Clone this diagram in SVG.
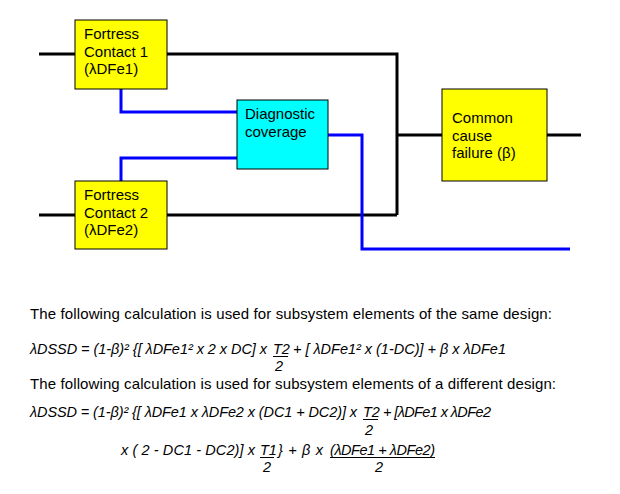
<svg xmlns="http://www.w3.org/2000/svg" width="620" height="494" viewBox="0 0 620 494">
<style>
.box{stroke:#000;stroke-width:1}
.yl{fill:#ffff00}
.cy{fill:#00ffff}
.blk{fill:none;stroke:#000;stroke-width:3}
.blu{fill:none;stroke:#0000ff;stroke-width:3}
.lbl{font-family:"Liberation Sans",Arial,sans-serif;font-size:15px;fill:#000}
.txt{font-family:"Liberation Sans",Arial,sans-serif;font-size:15px;fill:#000}
.f{font-family:"Liberation Sans",Arial,sans-serif;font-size:14.5px;font-style:italic;fill:#000}
.ul{stroke:#000;stroke-width:1}
</style>
<rect width="620" height="494" fill="#fff"/>
<g id="connectors">
<path class="blk" d="M39 54H397V215M39 215H397M397 135H442M547 135H581"/>
<path class="blu" d="M121 89V112H237M121 181V158H237M328 135H362V249H570"/>
</g>
<g id="fc1">
<rect class="box yl" x="75" y="20" width="92" height="69"/>
<text class="lbl"><tspan x="84" y="39">Fortress</tspan><tspan x="84" y="56.5">Contact 1</tspan><tspan x="84" y="74">(λDFe1)</tspan></text>
</g>
<g id="fc2">
<rect class="box yl" x="75" y="181" width="92" height="68"/>
<text class="lbl"><tspan x="84" y="200">Fortress</tspan><tspan x="84" y="217.5">Contact 2</tspan><tspan x="84" y="235">(λDFe2)</tspan></text>
</g>
<g id="dc">
<rect class="box cy" x="237" y="100" width="91" height="69"/>
<text class="lbl"><tspan x="245" y="119">Diagnostic</tspan><tspan x="245" y="136.5">coverage</tspan></text>
</g>
<g id="ccf">
<rect class="box yl" x="442" y="89" width="105" height="92"/>
<text class="lbl"><tspan x="452" y="123">Common</tspan><tspan x="452" y="140.5">cause</tspan><tspan x="452" y="158">failure (β)</tspan></text>
</g>
<g id="text">
<text class="txt" x="30" y="319" textLength="522" lengthAdjust="spacing">The following calculation is used for subsystem elements of the same design:</text>
<text class="f" x="30" y="354" textLength="237" lengthAdjust="spacing">λDSSD = (1-β)² {[ λDFe1² x 2 x DC] x</text>
<text class="f" x="273" y="354">T2</text>
<line class="ul" x1="273" y1="356.5" x2="288" y2="356.5"/>
<text class="f" x="275" y="371">2</text>
<text class="f" x="293" y="354" textLength="213" lengthAdjust="spacing">+ [ λDFe1² x (1-DC)] + β x λDFe1</text>
<text class="txt" x="30" y="389" textLength="526" lengthAdjust="spacing">The following calculation is used for subsystem elements of a different design:</text>
<text class="f" x="30" y="417" textLength="327" lengthAdjust="spacing">λDSSD = (1-β)² {[ λDFe1 x λDFe2 x (DC1 + DC2)] x</text>
<text class="f" x="363" y="417">T2</text>
<line class="ul" x1="363" y1="419.5" x2="378" y2="419.5"/>
<text class="f" x="365" y="435">2</text>
<text class="f" x="383" y="417" textLength="108" lengthAdjust="spacing">+ [λDFe1 x λDFe2</text>
<text class="f" x="121" y="455" textLength="134" lengthAdjust="spacing">x ( 2 - DC1 - DC2)] x</text>
<text class="f" x="260" y="455">T1</text>
<line class="ul" x1="260" y1="457.5" x2="274" y2="457.5"/>
<text class="f" x="263" y="472">2</text>
<text class="f" x="278" y="455" textLength="45" lengthAdjust="spacing">} + β x</text>
<text class="f" x="330" y="455" textLength="105" lengthAdjust="spacing">(λDFe1 + λDFe2)</text>
<line class="ul" x1="330" y1="457.5" x2="435" y2="457.5"/>
<text class="f" x="375" y="472">2</text>
</g>
</svg>
